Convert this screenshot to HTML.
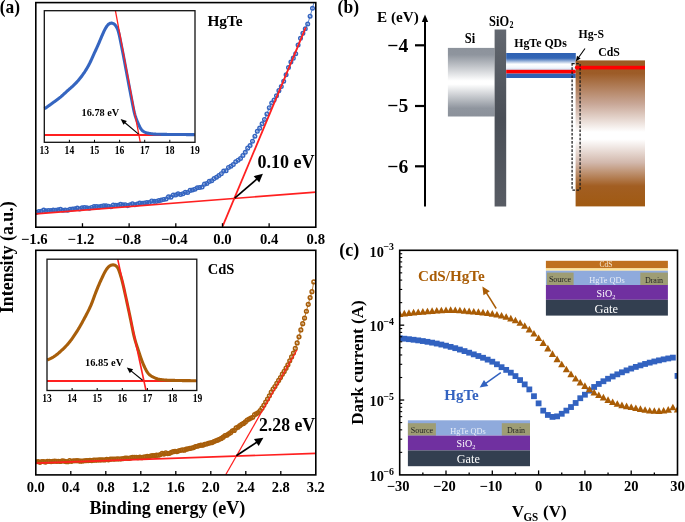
<!DOCTYPE html>
<html><head><meta charset="utf-8"><style>
html,body{margin:0;padding:0;background:#fff;}
body{width:685px;height:522px;overflow:hidden;}
svg{display:block;will-change:transform;}
</style></head><body>
<svg width="685" height="522" viewBox="0 0 685 522">
<rect width="685" height="522" fill="#fff"/>
<g clip-path="url(#clipA)">
<path d="M36.50,212.35 L38.90,211.53 L41.30,211.21 L43.70,210.08 L46.10,210.72 L48.50,210.53 L50.90,210.51 L53.30,210.08 L55.70,210.22 L58.10,209.85 L60.50,209.28 L62.90,210.23 L65.30,210.08 L67.70,210.33 L70.10,209.34 L72.50,208.95 L74.90,208.70 L77.30,208.02 L79.70,209.08 L82.10,207.81 L84.50,207.51 L86.90,207.73 L89.30,208.31 L91.70,207.44 L94.10,206.56 L96.50,206.46 L98.90,206.88 L101.30,206.26 L103.70,205.76 L106.10,205.88 L108.50,206.26 L110.90,206.78 L113.30,205.10 L115.70,205.33 L118.10,205.17 L120.50,204.27 L122.90,204.90 L125.30,204.70 L127.70,205.61 L130.10,204.80 L132.50,203.84 L134.90,204.76 L137.30,204.02 L139.70,203.06 L142.10,203.34 L144.50,203.01 L146.90,202.49 L149.30,202.53 L151.70,200.92 L154.10,201.35 L156.50,201.37 L158.90,200.64 L161.30,200.10 L163.70,199.44 L166.10,198.91 L168.50,196.88 L170.90,197.15 L173.30,195.11 L175.70,195.06 L178.10,193.70 L180.50,194.43 L182.90,193.80 L185.30,192.23 L187.70,192.42 L190.10,190.40 L192.50,190.00 L194.90,189.17 L197.30,187.74 L199.70,187.55 L202.10,187.09 L204.50,184.15 L206.90,183.51 L209.30,181.38 L211.70,180.80 L214.10,178.62 L216.50,177.16 L218.90,175.54 L221.30,173.68 L223.70,171.11 L226.10,170.69 L228.50,167.42 L230.90,166.28 L233.30,164.48 L235.70,161.74 L238.10,160.19 L240.50,158.51 L242.90,155.48 L245.30,152.29 L247.70,148.15 L250.10,145.53 L252.50,141.19 L254.90,136.18 L257.30,131.34 L259.70,128.13 L262.10,123.82 L264.50,119.45 L266.90,113.91 L269.30,107.65 L271.70,103.10 L274.10,100.07 L276.50,95.79 L278.90,90.64 L281.30,86.58 L283.70,81.29 L286.10,74.71 L288.50,67.52 L290.90,62.05 L293.30,58.14 L295.70,53.71 L298.10,45.06 L300.50,38.21 L302.90,33.32 L305.30,28.79 L307.70,23.95 L310.10,16.19 L312.50,8.24 L314.90,-1.19" fill="none" stroke="#3565c0" stroke-width="0.8" />
<circle cx="36.50" cy="212.35" r="1.8" fill="none" stroke="#3565c0" stroke-width="1.45"/>
<circle cx="38.90" cy="211.53" r="1.8" fill="none" stroke="#3565c0" stroke-width="1.45"/>
<circle cx="41.30" cy="211.21" r="1.8" fill="none" stroke="#3565c0" stroke-width="1.45"/>
<circle cx="43.70" cy="210.08" r="1.8" fill="none" stroke="#3565c0" stroke-width="1.45"/>
<circle cx="46.10" cy="210.72" r="1.8" fill="none" stroke="#3565c0" stroke-width="1.45"/>
<circle cx="48.50" cy="210.53" r="1.8" fill="none" stroke="#3565c0" stroke-width="1.45"/>
<circle cx="50.90" cy="210.51" r="1.8" fill="none" stroke="#3565c0" stroke-width="1.45"/>
<circle cx="53.30" cy="210.08" r="1.8" fill="none" stroke="#3565c0" stroke-width="1.45"/>
<circle cx="55.70" cy="210.22" r="1.8" fill="none" stroke="#3565c0" stroke-width="1.45"/>
<circle cx="58.10" cy="209.85" r="1.8" fill="none" stroke="#3565c0" stroke-width="1.45"/>
<circle cx="60.50" cy="209.28" r="1.8" fill="none" stroke="#3565c0" stroke-width="1.45"/>
<circle cx="62.90" cy="210.23" r="1.8" fill="none" stroke="#3565c0" stroke-width="1.45"/>
<circle cx="65.30" cy="210.08" r="1.8" fill="none" stroke="#3565c0" stroke-width="1.45"/>
<circle cx="67.70" cy="210.33" r="1.8" fill="none" stroke="#3565c0" stroke-width="1.45"/>
<circle cx="70.10" cy="209.34" r="1.8" fill="none" stroke="#3565c0" stroke-width="1.45"/>
<circle cx="72.50" cy="208.95" r="1.8" fill="none" stroke="#3565c0" stroke-width="1.45"/>
<circle cx="74.90" cy="208.70" r="1.8" fill="none" stroke="#3565c0" stroke-width="1.45"/>
<circle cx="77.30" cy="208.02" r="1.8" fill="none" stroke="#3565c0" stroke-width="1.45"/>
<circle cx="79.70" cy="209.08" r="1.8" fill="none" stroke="#3565c0" stroke-width="1.45"/>
<circle cx="82.10" cy="207.81" r="1.8" fill="none" stroke="#3565c0" stroke-width="1.45"/>
<circle cx="84.50" cy="207.51" r="1.8" fill="none" stroke="#3565c0" stroke-width="1.45"/>
<circle cx="86.90" cy="207.73" r="1.8" fill="none" stroke="#3565c0" stroke-width="1.45"/>
<circle cx="89.30" cy="208.31" r="1.8" fill="none" stroke="#3565c0" stroke-width="1.45"/>
<circle cx="91.70" cy="207.44" r="1.8" fill="none" stroke="#3565c0" stroke-width="1.45"/>
<circle cx="94.10" cy="206.56" r="1.8" fill="none" stroke="#3565c0" stroke-width="1.45"/>
<circle cx="96.50" cy="206.46" r="1.8" fill="none" stroke="#3565c0" stroke-width="1.45"/>
<circle cx="98.90" cy="206.88" r="1.8" fill="none" stroke="#3565c0" stroke-width="1.45"/>
<circle cx="101.30" cy="206.26" r="1.8" fill="none" stroke="#3565c0" stroke-width="1.45"/>
<circle cx="103.70" cy="205.76" r="1.8" fill="none" stroke="#3565c0" stroke-width="1.45"/>
<circle cx="106.10" cy="205.88" r="1.8" fill="none" stroke="#3565c0" stroke-width="1.45"/>
<circle cx="108.50" cy="206.26" r="1.8" fill="none" stroke="#3565c0" stroke-width="1.45"/>
<circle cx="110.90" cy="206.78" r="1.8" fill="none" stroke="#3565c0" stroke-width="1.45"/>
<circle cx="113.30" cy="205.10" r="1.8" fill="none" stroke="#3565c0" stroke-width="1.45"/>
<circle cx="115.70" cy="205.33" r="1.8" fill="none" stroke="#3565c0" stroke-width="1.45"/>
<circle cx="118.10" cy="205.17" r="1.8" fill="none" stroke="#3565c0" stroke-width="1.45"/>
<circle cx="120.50" cy="204.27" r="1.8" fill="none" stroke="#3565c0" stroke-width="1.45"/>
<circle cx="122.90" cy="204.90" r="1.8" fill="none" stroke="#3565c0" stroke-width="1.45"/>
<circle cx="125.30" cy="204.70" r="1.8" fill="none" stroke="#3565c0" stroke-width="1.45"/>
<circle cx="127.70" cy="205.61" r="1.8" fill="none" stroke="#3565c0" stroke-width="1.45"/>
<circle cx="130.10" cy="204.80" r="1.8" fill="none" stroke="#3565c0" stroke-width="1.45"/>
<circle cx="132.50" cy="203.84" r="1.8" fill="none" stroke="#3565c0" stroke-width="1.45"/>
<circle cx="134.90" cy="204.76" r="1.8" fill="none" stroke="#3565c0" stroke-width="1.45"/>
<circle cx="137.30" cy="204.02" r="1.8" fill="none" stroke="#3565c0" stroke-width="1.45"/>
<circle cx="139.70" cy="203.06" r="1.8" fill="none" stroke="#3565c0" stroke-width="1.45"/>
<circle cx="142.10" cy="203.34" r="1.8" fill="none" stroke="#3565c0" stroke-width="1.45"/>
<circle cx="144.50" cy="203.01" r="1.8" fill="none" stroke="#3565c0" stroke-width="1.45"/>
<circle cx="146.90" cy="202.49" r="1.8" fill="none" stroke="#3565c0" stroke-width="1.45"/>
<circle cx="149.30" cy="202.53" r="1.8" fill="none" stroke="#3565c0" stroke-width="1.45"/>
<circle cx="151.70" cy="200.92" r="1.8" fill="none" stroke="#3565c0" stroke-width="1.45"/>
<circle cx="154.10" cy="201.35" r="1.8" fill="none" stroke="#3565c0" stroke-width="1.45"/>
<circle cx="156.50" cy="201.37" r="1.8" fill="none" stroke="#3565c0" stroke-width="1.45"/>
<circle cx="158.90" cy="200.64" r="1.8" fill="none" stroke="#3565c0" stroke-width="1.45"/>
<circle cx="161.30" cy="200.10" r="1.8" fill="none" stroke="#3565c0" stroke-width="1.45"/>
<circle cx="163.70" cy="199.44" r="1.8" fill="none" stroke="#3565c0" stroke-width="1.45"/>
<circle cx="166.10" cy="198.91" r="1.8" fill="none" stroke="#3565c0" stroke-width="1.45"/>
<circle cx="168.50" cy="196.88" r="1.8" fill="none" stroke="#3565c0" stroke-width="1.45"/>
<circle cx="170.90" cy="197.15" r="1.8" fill="none" stroke="#3565c0" stroke-width="1.45"/>
<circle cx="173.30" cy="195.11" r="1.8" fill="none" stroke="#3565c0" stroke-width="1.45"/>
<circle cx="175.70" cy="195.06" r="1.8" fill="none" stroke="#3565c0" stroke-width="1.45"/>
<circle cx="178.10" cy="193.70" r="1.8" fill="none" stroke="#3565c0" stroke-width="1.45"/>
<circle cx="180.50" cy="194.43" r="1.8" fill="none" stroke="#3565c0" stroke-width="1.45"/>
<circle cx="182.90" cy="193.80" r="1.8" fill="none" stroke="#3565c0" stroke-width="1.45"/>
<circle cx="185.30" cy="192.23" r="1.8" fill="none" stroke="#3565c0" stroke-width="1.45"/>
<circle cx="187.70" cy="192.42" r="1.8" fill="none" stroke="#3565c0" stroke-width="1.45"/>
<circle cx="190.10" cy="190.40" r="1.8" fill="none" stroke="#3565c0" stroke-width="1.45"/>
<circle cx="192.50" cy="190.00" r="1.8" fill="none" stroke="#3565c0" stroke-width="1.45"/>
<circle cx="194.90" cy="189.17" r="1.8" fill="none" stroke="#3565c0" stroke-width="1.45"/>
<circle cx="197.30" cy="187.74" r="1.8" fill="none" stroke="#3565c0" stroke-width="1.45"/>
<circle cx="199.70" cy="187.55" r="1.8" fill="none" stroke="#3565c0" stroke-width="1.45"/>
<circle cx="202.10" cy="187.09" r="1.8" fill="none" stroke="#3565c0" stroke-width="1.45"/>
<circle cx="204.50" cy="184.15" r="1.8" fill="none" stroke="#3565c0" stroke-width="1.45"/>
<circle cx="206.90" cy="183.51" r="1.8" fill="none" stroke="#3565c0" stroke-width="1.45"/>
<circle cx="209.30" cy="181.38" r="1.8" fill="none" stroke="#3565c0" stroke-width="1.45"/>
<circle cx="211.70" cy="180.80" r="1.8" fill="none" stroke="#3565c0" stroke-width="1.45"/>
<circle cx="214.10" cy="178.62" r="1.8" fill="none" stroke="#3565c0" stroke-width="1.45"/>
<circle cx="216.50" cy="177.16" r="1.8" fill="none" stroke="#3565c0" stroke-width="1.45"/>
<circle cx="218.90" cy="175.54" r="1.8" fill="none" stroke="#3565c0" stroke-width="1.45"/>
<circle cx="221.30" cy="173.68" r="1.8" fill="none" stroke="#3565c0" stroke-width="1.45"/>
<circle cx="223.70" cy="171.11" r="1.8" fill="none" stroke="#3565c0" stroke-width="1.45"/>
<circle cx="226.10" cy="170.69" r="1.8" fill="none" stroke="#3565c0" stroke-width="1.45"/>
<circle cx="228.50" cy="167.42" r="1.8" fill="none" stroke="#3565c0" stroke-width="1.45"/>
<circle cx="230.90" cy="166.28" r="1.8" fill="none" stroke="#3565c0" stroke-width="1.45"/>
<circle cx="233.30" cy="164.48" r="1.8" fill="none" stroke="#3565c0" stroke-width="1.45"/>
<circle cx="235.70" cy="161.74" r="1.8" fill="none" stroke="#3565c0" stroke-width="1.45"/>
<circle cx="238.10" cy="160.19" r="1.8" fill="none" stroke="#3565c0" stroke-width="1.45"/>
<circle cx="240.50" cy="158.51" r="1.8" fill="none" stroke="#3565c0" stroke-width="1.45"/>
<circle cx="242.90" cy="155.48" r="1.8" fill="none" stroke="#3565c0" stroke-width="1.45"/>
<circle cx="245.30" cy="152.29" r="1.8" fill="none" stroke="#3565c0" stroke-width="1.45"/>
<circle cx="247.70" cy="148.15" r="1.8" fill="none" stroke="#3565c0" stroke-width="1.45"/>
<circle cx="250.10" cy="145.53" r="1.8" fill="none" stroke="#3565c0" stroke-width="1.45"/>
<circle cx="252.50" cy="141.19" r="1.8" fill="none" stroke="#3565c0" stroke-width="1.45"/>
<circle cx="254.90" cy="136.18" r="1.8" fill="none" stroke="#3565c0" stroke-width="1.45"/>
<circle cx="257.30" cy="131.34" r="1.8" fill="none" stroke="#3565c0" stroke-width="1.45"/>
<circle cx="259.70" cy="128.13" r="1.8" fill="none" stroke="#3565c0" stroke-width="1.45"/>
<circle cx="262.10" cy="123.82" r="1.8" fill="none" stroke="#3565c0" stroke-width="1.45"/>
<circle cx="264.50" cy="119.45" r="1.8" fill="none" stroke="#3565c0" stroke-width="1.45"/>
<circle cx="266.90" cy="113.91" r="1.8" fill="none" stroke="#3565c0" stroke-width="1.45"/>
<circle cx="269.30" cy="107.65" r="1.8" fill="none" stroke="#3565c0" stroke-width="1.45"/>
<circle cx="271.70" cy="103.10" r="1.8" fill="none" stroke="#3565c0" stroke-width="1.45"/>
<circle cx="274.10" cy="100.07" r="1.8" fill="none" stroke="#3565c0" stroke-width="1.45"/>
<circle cx="276.50" cy="95.79" r="1.8" fill="none" stroke="#3565c0" stroke-width="1.45"/>
<circle cx="278.90" cy="90.64" r="1.8" fill="none" stroke="#3565c0" stroke-width="1.45"/>
<circle cx="281.30" cy="86.58" r="1.8" fill="none" stroke="#3565c0" stroke-width="1.45"/>
<circle cx="283.70" cy="81.29" r="1.8" fill="none" stroke="#3565c0" stroke-width="1.45"/>
<circle cx="286.10" cy="74.71" r="1.8" fill="none" stroke="#3565c0" stroke-width="1.45"/>
<circle cx="288.50" cy="67.52" r="1.8" fill="none" stroke="#3565c0" stroke-width="1.45"/>
<circle cx="290.90" cy="62.05" r="1.8" fill="none" stroke="#3565c0" stroke-width="1.45"/>
<circle cx="293.30" cy="58.14" r="1.8" fill="none" stroke="#3565c0" stroke-width="1.45"/>
<circle cx="295.70" cy="53.71" r="1.8" fill="none" stroke="#3565c0" stroke-width="1.45"/>
<circle cx="298.10" cy="45.06" r="1.8" fill="none" stroke="#3565c0" stroke-width="1.45"/>
<circle cx="300.50" cy="38.21" r="1.8" fill="none" stroke="#3565c0" stroke-width="1.45"/>
<circle cx="302.90" cy="33.32" r="1.8" fill="none" stroke="#3565c0" stroke-width="1.45"/>
<circle cx="305.30" cy="28.79" r="1.8" fill="none" stroke="#3565c0" stroke-width="1.45"/>
<circle cx="307.70" cy="23.95" r="1.8" fill="none" stroke="#3565c0" stroke-width="1.45"/>
<circle cx="310.10" cy="16.19" r="1.8" fill="none" stroke="#3565c0" stroke-width="1.45"/>
<circle cx="312.50" cy="8.24" r="1.8" fill="none" stroke="#3565c0" stroke-width="1.45"/>
<circle cx="314.90" cy="-1.19" r="1.8" fill="none" stroke="#3565c0" stroke-width="1.45"/>
</g>
<line x1="35.80" y1="213.90" x2="315.80" y2="192.10" stroke="#ff2020" stroke-width="1.7" />
<line x1="222.60" y1="226.40" x2="305.80" y2="27.40" stroke="#ff2020" stroke-width="1.8" />
<line x1="234.70" y1="198.20" x2="257.23" y2="178.71" stroke="#000" stroke-width="1.7" />
<path d="M262.90,173.80 L259.25,182.58 L253.69,176.15 Z" fill="#000"/>
<text x="257.40" y="168.30" font-family="Liberation Serif" font-size="18.2" font-weight="bold" text-anchor="start" fill="#000" textLength="57.2" lengthAdjust="spacingAndGlyphs" >0.10 eV</text>
<text x="207.40" y="25.70" font-family="Liberation Serif" font-size="14.5" font-weight="bold" text-anchor="start" fill="#000" textLength="35.3" lengthAdjust="spacingAndGlyphs" >HgTe</text>
<rect x="35.8" y="2.6" width="280.0" height="224.6" fill="none" stroke="#000" stroke-width="1.6"/>
<line x1="82.47" y1="227.20" x2="82.47" y2="223.20" stroke="#000" stroke-width="1.3" />
<line x1="129.13" y1="227.20" x2="129.13" y2="223.20" stroke="#000" stroke-width="1.3" />
<line x1="175.80" y1="227.20" x2="175.80" y2="223.20" stroke="#000" stroke-width="1.3" />
<line x1="222.47" y1="227.20" x2="222.47" y2="223.20" stroke="#000" stroke-width="1.3" />
<line x1="269.13" y1="227.20" x2="269.13" y2="223.20" stroke="#000" stroke-width="1.3" />
<text x="34.30" y="244.00" font-family="Liberation Serif" font-size="14.7" font-weight="bold" text-anchor="middle" fill="#000" >−1.6</text>
<text x="80.97" y="244.00" font-family="Liberation Serif" font-size="14.7" font-weight="bold" text-anchor="middle" fill="#000" >−1.2</text>
<text x="127.63" y="244.00" font-family="Liberation Serif" font-size="14.7" font-weight="bold" text-anchor="middle" fill="#000" >−0.8</text>
<text x="174.30" y="244.00" font-family="Liberation Serif" font-size="14.7" font-weight="bold" text-anchor="middle" fill="#000" >−0.4</text>
<text x="222.47" y="244.00" font-family="Liberation Serif" font-size="14.7" font-weight="bold" text-anchor="middle" fill="#000" >0.0</text>
<text x="269.13" y="244.00" font-family="Liberation Serif" font-size="14.7" font-weight="bold" text-anchor="middle" fill="#000" >0.4</text>
<text x="315.80" y="244.00" font-family="Liberation Serif" font-size="14.7" font-weight="bold" text-anchor="middle" fill="#000" >0.8</text>
<line x1="44.30" y1="135.00" x2="195.00" y2="135.00" stroke="#ff2020" stroke-width="2.1" />
<path d="M44.30,108.70 L44.80,108.48 L45.30,108.18 L45.80,107.85 L46.30,107.50 L46.80,107.14 L47.30,106.79 L47.80,106.44 L48.30,106.08 L48.80,105.72 L49.30,105.37 L49.80,105.01 L50.30,104.65 L50.80,104.29 L51.30,103.93 L51.80,103.57 L52.30,103.20 L52.80,102.84 L53.30,102.48 L53.80,102.11 L54.30,101.75 L54.80,101.38 L55.30,101.02 L55.80,100.66 L56.30,100.29 L56.80,99.93 L57.30,99.56 L57.80,99.19 L58.30,98.82 L58.80,98.44 L59.30,98.05 L59.80,97.65 L60.30,97.24 L60.80,96.83 L61.30,96.40 L61.80,95.97 L62.30,95.53 L62.80,95.09 L63.30,94.64 L63.80,94.18 L64.30,93.72 L64.80,93.26 L65.30,92.80 L65.80,92.34 L66.30,91.88 L66.80,91.42 L67.30,90.97 L67.80,90.52 L68.30,90.07 L68.80,89.63 L69.30,89.19 L69.80,88.75 L70.30,88.32 L70.80,87.89 L71.30,87.45 L71.80,87.01 L72.30,86.56 L72.80,86.11 L73.30,85.65 L73.80,85.17 L74.30,84.69 L74.80,84.19 L75.30,83.69 L75.80,83.16 L76.30,82.63 L76.80,82.09 L77.30,81.53 L77.80,80.97 L78.30,80.39 L78.80,79.80 L79.30,79.20 L79.80,78.59 L80.30,77.96 L80.80,77.33 L81.30,76.68 L81.80,76.02 L82.30,75.35 L82.80,74.66 L83.30,73.96 L83.80,73.24 L84.30,72.51 L84.80,71.76 L85.30,70.99 L85.80,70.20 L86.30,69.39 L86.80,68.56 L87.30,67.71 L87.80,66.84 L88.30,65.94 L88.80,65.02 L89.30,64.07 L89.80,63.08 L90.30,62.05 L90.80,60.98 L91.30,59.88 L91.80,58.76 L92.30,57.64 L92.80,56.51 L93.30,55.40 L93.80,54.30 L94.30,53.21 L94.80,52.13 L95.30,51.05 L95.80,49.98 L96.30,48.90 L96.80,47.81 L97.30,46.71 L97.80,45.60 L98.30,44.47 L98.80,43.32 L99.30,42.14 L99.80,40.95 L100.30,39.76 L100.80,38.56 L101.30,37.39 L101.80,36.23 L102.30,35.08 L102.80,33.95 L103.30,32.82 L103.80,31.71 L104.30,30.63 L104.80,29.61 L105.30,28.67 L105.80,27.80 L106.30,27.01 L106.80,26.28 L107.30,25.62 L107.80,25.02 L108.30,24.51 L108.80,24.10 L109.30,23.77 L109.80,23.52 L110.30,23.32 L110.80,23.18 L111.30,23.11 L111.80,23.11 L112.30,23.19 L112.80,23.35 L113.30,23.57 L113.80,23.86 L114.30,24.22 L114.80,24.67 L115.30,25.22 L115.80,25.87 L116.30,26.62 L116.80,27.48 L117.30,28.50 L117.80,29.72 L118.30,31.22 L118.80,33.02 L119.30,35.14 L119.80,37.48 L120.30,39.95 L120.80,42.45 L121.30,44.95 L121.80,47.44 L122.30,49.95 L122.80,52.49 L123.30,55.06 L123.80,57.67 L124.30,60.31 L124.80,62.98 L125.30,65.67 L125.80,68.36 L126.30,71.06 L126.80,73.75 L127.30,76.42 L127.80,79.08 L128.30,81.73 L128.80,84.37 L129.30,87.01 L129.80,89.63 L130.30,92.25 L130.80,94.84 L131.30,97.43 L131.80,100.02 L132.30,102.63 L132.80,105.23 L133.30,107.78 L133.80,110.20 L134.30,112.40 L134.80,114.35 L135.30,116.05 L135.80,117.57 L136.30,118.94 L136.80,120.23 L137.30,121.47 L137.80,122.67 L138.30,123.82 L138.80,124.91 L139.30,125.95 L139.80,126.94 L140.30,127.86 L140.80,128.70 L141.30,129.44 L141.80,130.05 L142.30,130.54 L142.80,130.95 L143.30,131.30 L143.80,131.61 L144.30,131.89 L144.80,132.14 L145.30,132.37 L145.80,132.56 L146.30,132.73 L146.80,132.88 L147.30,133.01 L147.80,133.12 L148.30,133.23 L148.80,133.32 L149.30,133.42 L149.80,133.50 L150.30,133.59 L150.80,133.67 L151.30,133.74 L151.80,133.81 L152.30,133.87 L152.80,133.93 L153.30,133.99 L153.80,134.03 L154.30,134.08 L154.80,134.11 L155.30,134.14 L155.80,134.17 L156.30,134.19 L156.80,134.21 L157.30,134.23 L157.80,134.24 L158.30,134.26 L158.80,134.27 L159.30,134.28 L159.80,134.29 L160.30,134.31 L160.80,134.32 L161.30,134.33 L161.80,134.34 L162.30,134.35 L162.80,134.36 L163.30,134.37 L163.80,134.38 L164.30,134.38 L164.80,134.39 L165.30,134.40 L165.80,134.41 L166.30,134.41 L166.80,134.42 L167.30,134.43 L167.80,134.43 L168.30,134.44 L168.80,134.44 L169.30,134.45 L169.80,134.45 L170.30,134.46 L170.80,134.46 L171.30,134.47 L171.80,134.47 L172.30,134.48 L172.80,134.48 L173.30,134.49 L173.80,134.49 L174.30,134.49 L174.80,134.50 L175.30,134.50 L175.80,134.51 L176.30,134.51 L176.80,134.51 L177.30,134.52 L177.80,134.52 L178.30,134.52 L178.80,134.53 L179.30,134.53 L179.80,134.54 L180.30,134.54 L180.80,134.54 L181.30,134.55 L181.80,134.55 L182.30,134.55 L182.80,134.56 L183.30,134.56 L183.80,134.56 L184.30,134.57 L184.80,134.57 L185.30,134.57 L185.80,134.57 L186.30,134.58 L186.80,134.58 L187.30,134.58 L187.80,134.58 L188.30,134.59 L188.80,134.59 L189.30,134.59 L189.80,134.59 L190.30,134.59 L190.80,134.59 L191.30,134.60 L191.80,134.60 L192.30,134.60 L192.80,134.60 L193.30,134.60 L193.80,134.60 L194.30,134.60 L194.80,134.60" fill="none" stroke="#3565c0" stroke-width="3.1" />
<line x1="115.40" y1="10.70" x2="140.30" y2="142.30" stroke="#ff2020" stroke-width="1.3" />
<line x1="138.60" y1="134.20" x2="124.42" y2="122.23" stroke="#000" stroke-width="1.1" />
<path d="M120.60,119.00 L126.86,120.88 L123.51,124.86 Z" fill="#000"/>
<text x="81.50" y="116.10" font-family="Liberation Serif" font-size="11.3" font-weight="bold" text-anchor="start" fill="#000" textLength="37.8" lengthAdjust="spacingAndGlyphs" >16.78 eV</text>
<rect x="44.3" y="10.7" width="150.7" height="131.60000000000002" fill="none" stroke="#111" stroke-width="1.3"/>
<line x1="69.40" y1="142.30" x2="69.40" y2="139.80" stroke="#000" stroke-width="1" />
<line x1="94.50" y1="142.30" x2="94.50" y2="139.80" stroke="#000" stroke-width="1" />
<line x1="119.60" y1="142.30" x2="119.60" y2="139.80" stroke="#000" stroke-width="1" />
<line x1="144.70" y1="142.30" x2="144.70" y2="139.80" stroke="#000" stroke-width="1" />
<line x1="169.80" y1="142.30" x2="169.80" y2="139.80" stroke="#000" stroke-width="1" />
<text x="44.30" y="154.00" font-family="Liberation Serif" font-size="11.8" font-weight="bold" text-anchor="middle" fill="#000" textLength="9.6" lengthAdjust="spacingAndGlyphs" >13</text>
<text x="69.40" y="154.00" font-family="Liberation Serif" font-size="11.8" font-weight="bold" text-anchor="middle" fill="#000" textLength="9.6" lengthAdjust="spacingAndGlyphs" >14</text>
<text x="94.50" y="154.00" font-family="Liberation Serif" font-size="11.8" font-weight="bold" text-anchor="middle" fill="#000" textLength="9.6" lengthAdjust="spacingAndGlyphs" >15</text>
<text x="119.60" y="154.00" font-family="Liberation Serif" font-size="11.8" font-weight="bold" text-anchor="middle" fill="#000" textLength="9.6" lengthAdjust="spacingAndGlyphs" >16</text>
<text x="144.70" y="154.00" font-family="Liberation Serif" font-size="11.8" font-weight="bold" text-anchor="middle" fill="#000" textLength="9.6" lengthAdjust="spacingAndGlyphs" >17</text>
<text x="169.80" y="154.00" font-family="Liberation Serif" font-size="11.8" font-weight="bold" text-anchor="middle" fill="#000" textLength="9.6" lengthAdjust="spacingAndGlyphs" >18</text>
<text x="194.90" y="154.00" font-family="Liberation Serif" font-size="11.8" font-weight="bold" text-anchor="middle" fill="#000" textLength="9.6" lengthAdjust="spacingAndGlyphs" >19</text>
<g clip-path="url(#clipB)">
<path d="M36.30,461.73 L38.15,461.50 L40.00,462.32 L41.85,461.51 L43.70,461.60 L45.55,462.03 L47.40,461.26 L49.25,461.34 L51.10,461.55 L52.95,461.37 L54.80,461.08 L56.65,461.35 L58.50,461.27 L60.35,461.52 L62.20,460.81 L64.05,461.06 L65.90,461.57 L67.75,461.75 L69.60,460.69 L71.45,461.30 L73.30,460.76 L75.15,460.76 L77.00,460.70 L78.85,460.79 L80.70,461.17 L82.55,461.02 L84.40,460.75 L86.25,460.54 L88.10,460.56 L89.95,460.43 L91.80,460.60 L93.65,460.06 L95.50,460.14 L97.35,460.00 L99.20,459.90 L101.05,459.88 L102.90,459.75 L104.75,459.98 L106.60,459.44 L108.45,459.83 L110.30,459.15 L112.15,458.98 L114.00,459.03 L115.85,458.99 L117.70,458.84 L119.55,459.02 L121.40,458.85 L123.25,458.53 L125.10,458.16 L126.95,458.11 L128.80,458.44 L130.65,457.96 L132.50,457.37 L134.35,457.42 L136.20,457.32 L138.05,457.70 L139.90,457.17 L141.75,457.72 L143.60,457.07 L145.45,456.73 L147.30,456.36 L149.15,456.56 L151.00,455.96 L152.85,455.52 L154.70,455.66 L156.55,455.19 L158.40,455.23 L160.25,454.53 L162.10,453.36 L163.95,454.11 L165.80,452.95 L167.65,453.62 L169.50,453.34 L171.35,452.30 L173.20,451.71 L175.05,451.26 L176.90,451.54 L178.75,450.81 L180.60,450.27 L182.45,449.94 L184.30,450.19 L186.15,449.21 L188.00,448.87 L189.85,448.41 L191.70,448.02 L193.55,447.56 L195.40,446.55 L197.25,446.23 L199.10,445.60 L200.95,445.16 L202.80,445.27 L204.65,444.33 L206.50,444.00 L208.35,443.32 L210.20,442.81 L212.05,442.62 L213.90,441.56 L215.75,440.77 L217.60,440.20 L219.45,439.27 L221.30,438.38 L223.15,437.16 L225.00,435.53 L226.85,435.13 L228.70,433.86 L230.55,432.71 L232.40,430.79 L234.25,430.43 L236.10,427.94 L237.95,427.19 L239.80,425.71 L241.65,424.30 L243.50,423.45 L245.35,421.88 L247.20,419.99 L249.05,419.02 L250.90,418.12 L252.75,417.23 L254.60,414.70 L256.45,413.66 L258.30,412.51 L260.15,410.49 L262.00,408.17 L263.85,405.30 L265.70,402.10 L267.55,399.07 L269.40,395.87 L271.25,392.13 L273.10,389.07 L274.95,386.50 L276.80,383.32 L278.65,380.40 L280.50,377.54 L282.35,374.22 L284.20,371.38 L286.05,368.15 L287.90,364.80 L289.75,360.79 L291.60,356.94 L293.45,352.99 L295.30,348.42 L297.15,342.92 L299.00,336.87 L300.85,329.94 L302.70,323.69 L304.55,318.12 L306.40,311.25 L308.25,304.31 L310.10,297.61 L311.95,291.72 L313.80,281.96" fill="none" stroke="#a85e0a" stroke-width="0.8" />
<circle cx="36.30" cy="461.73" r="1.85" fill="none" stroke="#a85e0a" stroke-width="1.5"/>
<circle cx="38.15" cy="461.50" r="1.85" fill="none" stroke="#a85e0a" stroke-width="1.5"/>
<circle cx="40.00" cy="462.32" r="1.85" fill="none" stroke="#a85e0a" stroke-width="1.5"/>
<circle cx="41.85" cy="461.51" r="1.85" fill="none" stroke="#a85e0a" stroke-width="1.5"/>
<circle cx="43.70" cy="461.60" r="1.85" fill="none" stroke="#a85e0a" stroke-width="1.5"/>
<circle cx="45.55" cy="462.03" r="1.85" fill="none" stroke="#a85e0a" stroke-width="1.5"/>
<circle cx="47.40" cy="461.26" r="1.85" fill="none" stroke="#a85e0a" stroke-width="1.5"/>
<circle cx="49.25" cy="461.34" r="1.85" fill="none" stroke="#a85e0a" stroke-width="1.5"/>
<circle cx="51.10" cy="461.55" r="1.85" fill="none" stroke="#a85e0a" stroke-width="1.5"/>
<circle cx="52.95" cy="461.37" r="1.85" fill="none" stroke="#a85e0a" stroke-width="1.5"/>
<circle cx="54.80" cy="461.08" r="1.85" fill="none" stroke="#a85e0a" stroke-width="1.5"/>
<circle cx="56.65" cy="461.35" r="1.85" fill="none" stroke="#a85e0a" stroke-width="1.5"/>
<circle cx="58.50" cy="461.27" r="1.85" fill="none" stroke="#a85e0a" stroke-width="1.5"/>
<circle cx="60.35" cy="461.52" r="1.85" fill="none" stroke="#a85e0a" stroke-width="1.5"/>
<circle cx="62.20" cy="460.81" r="1.85" fill="none" stroke="#a85e0a" stroke-width="1.5"/>
<circle cx="64.05" cy="461.06" r="1.85" fill="none" stroke="#a85e0a" stroke-width="1.5"/>
<circle cx="65.90" cy="461.57" r="1.85" fill="none" stroke="#a85e0a" stroke-width="1.5"/>
<circle cx="67.75" cy="461.75" r="1.85" fill="none" stroke="#a85e0a" stroke-width="1.5"/>
<circle cx="69.60" cy="460.69" r="1.85" fill="none" stroke="#a85e0a" stroke-width="1.5"/>
<circle cx="71.45" cy="461.30" r="1.85" fill="none" stroke="#a85e0a" stroke-width="1.5"/>
<circle cx="73.30" cy="460.76" r="1.85" fill="none" stroke="#a85e0a" stroke-width="1.5"/>
<circle cx="75.15" cy="460.76" r="1.85" fill="none" stroke="#a85e0a" stroke-width="1.5"/>
<circle cx="77.00" cy="460.70" r="1.85" fill="none" stroke="#a85e0a" stroke-width="1.5"/>
<circle cx="78.85" cy="460.79" r="1.85" fill="none" stroke="#a85e0a" stroke-width="1.5"/>
<circle cx="80.70" cy="461.17" r="1.85" fill="none" stroke="#a85e0a" stroke-width="1.5"/>
<circle cx="82.55" cy="461.02" r="1.85" fill="none" stroke="#a85e0a" stroke-width="1.5"/>
<circle cx="84.40" cy="460.75" r="1.85" fill="none" stroke="#a85e0a" stroke-width="1.5"/>
<circle cx="86.25" cy="460.54" r="1.85" fill="none" stroke="#a85e0a" stroke-width="1.5"/>
<circle cx="88.10" cy="460.56" r="1.85" fill="none" stroke="#a85e0a" stroke-width="1.5"/>
<circle cx="89.95" cy="460.43" r="1.85" fill="none" stroke="#a85e0a" stroke-width="1.5"/>
<circle cx="91.80" cy="460.60" r="1.85" fill="none" stroke="#a85e0a" stroke-width="1.5"/>
<circle cx="93.65" cy="460.06" r="1.85" fill="none" stroke="#a85e0a" stroke-width="1.5"/>
<circle cx="95.50" cy="460.14" r="1.85" fill="none" stroke="#a85e0a" stroke-width="1.5"/>
<circle cx="97.35" cy="460.00" r="1.85" fill="none" stroke="#a85e0a" stroke-width="1.5"/>
<circle cx="99.20" cy="459.90" r="1.85" fill="none" stroke="#a85e0a" stroke-width="1.5"/>
<circle cx="101.05" cy="459.88" r="1.85" fill="none" stroke="#a85e0a" stroke-width="1.5"/>
<circle cx="102.90" cy="459.75" r="1.85" fill="none" stroke="#a85e0a" stroke-width="1.5"/>
<circle cx="104.75" cy="459.98" r="1.85" fill="none" stroke="#a85e0a" stroke-width="1.5"/>
<circle cx="106.60" cy="459.44" r="1.85" fill="none" stroke="#a85e0a" stroke-width="1.5"/>
<circle cx="108.45" cy="459.83" r="1.85" fill="none" stroke="#a85e0a" stroke-width="1.5"/>
<circle cx="110.30" cy="459.15" r="1.85" fill="none" stroke="#a85e0a" stroke-width="1.5"/>
<circle cx="112.15" cy="458.98" r="1.85" fill="none" stroke="#a85e0a" stroke-width="1.5"/>
<circle cx="114.00" cy="459.03" r="1.85" fill="none" stroke="#a85e0a" stroke-width="1.5"/>
<circle cx="115.85" cy="458.99" r="1.85" fill="none" stroke="#a85e0a" stroke-width="1.5"/>
<circle cx="117.70" cy="458.84" r="1.85" fill="none" stroke="#a85e0a" stroke-width="1.5"/>
<circle cx="119.55" cy="459.02" r="1.85" fill="none" stroke="#a85e0a" stroke-width="1.5"/>
<circle cx="121.40" cy="458.85" r="1.85" fill="none" stroke="#a85e0a" stroke-width="1.5"/>
<circle cx="123.25" cy="458.53" r="1.85" fill="none" stroke="#a85e0a" stroke-width="1.5"/>
<circle cx="125.10" cy="458.16" r="1.85" fill="none" stroke="#a85e0a" stroke-width="1.5"/>
<circle cx="126.95" cy="458.11" r="1.85" fill="none" stroke="#a85e0a" stroke-width="1.5"/>
<circle cx="128.80" cy="458.44" r="1.85" fill="none" stroke="#a85e0a" stroke-width="1.5"/>
<circle cx="130.65" cy="457.96" r="1.85" fill="none" stroke="#a85e0a" stroke-width="1.5"/>
<circle cx="132.50" cy="457.37" r="1.85" fill="none" stroke="#a85e0a" stroke-width="1.5"/>
<circle cx="134.35" cy="457.42" r="1.85" fill="none" stroke="#a85e0a" stroke-width="1.5"/>
<circle cx="136.20" cy="457.32" r="1.85" fill="none" stroke="#a85e0a" stroke-width="1.5"/>
<circle cx="138.05" cy="457.70" r="1.85" fill="none" stroke="#a85e0a" stroke-width="1.5"/>
<circle cx="139.90" cy="457.17" r="1.85" fill="none" stroke="#a85e0a" stroke-width="1.5"/>
<circle cx="141.75" cy="457.72" r="1.85" fill="none" stroke="#a85e0a" stroke-width="1.5"/>
<circle cx="143.60" cy="457.07" r="1.85" fill="none" stroke="#a85e0a" stroke-width="1.5"/>
<circle cx="145.45" cy="456.73" r="1.85" fill="none" stroke="#a85e0a" stroke-width="1.5"/>
<circle cx="147.30" cy="456.36" r="1.85" fill="none" stroke="#a85e0a" stroke-width="1.5"/>
<circle cx="149.15" cy="456.56" r="1.85" fill="none" stroke="#a85e0a" stroke-width="1.5"/>
<circle cx="151.00" cy="455.96" r="1.85" fill="none" stroke="#a85e0a" stroke-width="1.5"/>
<circle cx="152.85" cy="455.52" r="1.85" fill="none" stroke="#a85e0a" stroke-width="1.5"/>
<circle cx="154.70" cy="455.66" r="1.85" fill="none" stroke="#a85e0a" stroke-width="1.5"/>
<circle cx="156.55" cy="455.19" r="1.85" fill="none" stroke="#a85e0a" stroke-width="1.5"/>
<circle cx="158.40" cy="455.23" r="1.85" fill="none" stroke="#a85e0a" stroke-width="1.5"/>
<circle cx="160.25" cy="454.53" r="1.85" fill="none" stroke="#a85e0a" stroke-width="1.5"/>
<circle cx="162.10" cy="453.36" r="1.85" fill="none" stroke="#a85e0a" stroke-width="1.5"/>
<circle cx="163.95" cy="454.11" r="1.85" fill="none" stroke="#a85e0a" stroke-width="1.5"/>
<circle cx="165.80" cy="452.95" r="1.85" fill="none" stroke="#a85e0a" stroke-width="1.5"/>
<circle cx="167.65" cy="453.62" r="1.85" fill="none" stroke="#a85e0a" stroke-width="1.5"/>
<circle cx="169.50" cy="453.34" r="1.85" fill="none" stroke="#a85e0a" stroke-width="1.5"/>
<circle cx="171.35" cy="452.30" r="1.85" fill="none" stroke="#a85e0a" stroke-width="1.5"/>
<circle cx="173.20" cy="451.71" r="1.85" fill="none" stroke="#a85e0a" stroke-width="1.5"/>
<circle cx="175.05" cy="451.26" r="1.85" fill="none" stroke="#a85e0a" stroke-width="1.5"/>
<circle cx="176.90" cy="451.54" r="1.85" fill="none" stroke="#a85e0a" stroke-width="1.5"/>
<circle cx="178.75" cy="450.81" r="1.85" fill="none" stroke="#a85e0a" stroke-width="1.5"/>
<circle cx="180.60" cy="450.27" r="1.85" fill="none" stroke="#a85e0a" stroke-width="1.5"/>
<circle cx="182.45" cy="449.94" r="1.85" fill="none" stroke="#a85e0a" stroke-width="1.5"/>
<circle cx="184.30" cy="450.19" r="1.85" fill="none" stroke="#a85e0a" stroke-width="1.5"/>
<circle cx="186.15" cy="449.21" r="1.85" fill="none" stroke="#a85e0a" stroke-width="1.5"/>
<circle cx="188.00" cy="448.87" r="1.85" fill="none" stroke="#a85e0a" stroke-width="1.5"/>
<circle cx="189.85" cy="448.41" r="1.85" fill="none" stroke="#a85e0a" stroke-width="1.5"/>
<circle cx="191.70" cy="448.02" r="1.85" fill="none" stroke="#a85e0a" stroke-width="1.5"/>
<circle cx="193.55" cy="447.56" r="1.85" fill="none" stroke="#a85e0a" stroke-width="1.5"/>
<circle cx="195.40" cy="446.55" r="1.85" fill="none" stroke="#a85e0a" stroke-width="1.5"/>
<circle cx="197.25" cy="446.23" r="1.85" fill="none" stroke="#a85e0a" stroke-width="1.5"/>
<circle cx="199.10" cy="445.60" r="1.85" fill="none" stroke="#a85e0a" stroke-width="1.5"/>
<circle cx="200.95" cy="445.16" r="1.85" fill="none" stroke="#a85e0a" stroke-width="1.5"/>
<circle cx="202.80" cy="445.27" r="1.85" fill="none" stroke="#a85e0a" stroke-width="1.5"/>
<circle cx="204.65" cy="444.33" r="1.85" fill="none" stroke="#a85e0a" stroke-width="1.5"/>
<circle cx="206.50" cy="444.00" r="1.85" fill="none" stroke="#a85e0a" stroke-width="1.5"/>
<circle cx="208.35" cy="443.32" r="1.85" fill="none" stroke="#a85e0a" stroke-width="1.5"/>
<circle cx="210.20" cy="442.81" r="1.85" fill="none" stroke="#a85e0a" stroke-width="1.5"/>
<circle cx="212.05" cy="442.62" r="1.85" fill="none" stroke="#a85e0a" stroke-width="1.5"/>
<circle cx="213.90" cy="441.56" r="1.85" fill="none" stroke="#a85e0a" stroke-width="1.5"/>
<circle cx="215.75" cy="440.77" r="1.85" fill="none" stroke="#a85e0a" stroke-width="1.5"/>
<circle cx="217.60" cy="440.20" r="1.85" fill="none" stroke="#a85e0a" stroke-width="1.5"/>
<circle cx="219.45" cy="439.27" r="1.85" fill="none" stroke="#a85e0a" stroke-width="1.5"/>
<circle cx="221.30" cy="438.38" r="1.85" fill="none" stroke="#a85e0a" stroke-width="1.5"/>
<circle cx="223.15" cy="437.16" r="1.85" fill="none" stroke="#a85e0a" stroke-width="1.5"/>
<circle cx="225.00" cy="435.53" r="1.85" fill="none" stroke="#a85e0a" stroke-width="1.5"/>
<circle cx="226.85" cy="435.13" r="1.85" fill="none" stroke="#a85e0a" stroke-width="1.5"/>
<circle cx="228.70" cy="433.86" r="1.85" fill="none" stroke="#a85e0a" stroke-width="1.5"/>
<circle cx="230.55" cy="432.71" r="1.85" fill="none" stroke="#a85e0a" stroke-width="1.5"/>
<circle cx="232.40" cy="430.79" r="1.85" fill="none" stroke="#a85e0a" stroke-width="1.5"/>
<circle cx="234.25" cy="430.43" r="1.85" fill="none" stroke="#a85e0a" stroke-width="1.5"/>
<circle cx="236.10" cy="427.94" r="1.85" fill="none" stroke="#a85e0a" stroke-width="1.5"/>
<circle cx="237.95" cy="427.19" r="1.85" fill="none" stroke="#a85e0a" stroke-width="1.5"/>
<circle cx="239.80" cy="425.71" r="1.85" fill="none" stroke="#a85e0a" stroke-width="1.5"/>
<circle cx="241.65" cy="424.30" r="1.85" fill="none" stroke="#a85e0a" stroke-width="1.5"/>
<circle cx="243.50" cy="423.45" r="1.85" fill="none" stroke="#a85e0a" stroke-width="1.5"/>
<circle cx="245.35" cy="421.88" r="1.85" fill="none" stroke="#a85e0a" stroke-width="1.5"/>
<circle cx="247.20" cy="419.99" r="1.85" fill="none" stroke="#a85e0a" stroke-width="1.5"/>
<circle cx="249.05" cy="419.02" r="1.85" fill="none" stroke="#a85e0a" stroke-width="1.5"/>
<circle cx="250.90" cy="418.12" r="1.85" fill="none" stroke="#a85e0a" stroke-width="1.5"/>
<circle cx="252.75" cy="417.23" r="1.85" fill="none" stroke="#a85e0a" stroke-width="1.5"/>
<circle cx="254.60" cy="414.70" r="1.85" fill="none" stroke="#a85e0a" stroke-width="1.5"/>
<circle cx="256.45" cy="413.66" r="1.85" fill="none" stroke="#a85e0a" stroke-width="1.5"/>
<circle cx="258.30" cy="412.51" r="1.85" fill="none" stroke="#a85e0a" stroke-width="1.5"/>
<circle cx="260.15" cy="410.49" r="1.85" fill="none" stroke="#a85e0a" stroke-width="1.5"/>
<circle cx="262.00" cy="408.17" r="1.85" fill="none" stroke="#a85e0a" stroke-width="1.5"/>
<circle cx="263.85" cy="405.30" r="1.85" fill="none" stroke="#a85e0a" stroke-width="1.5"/>
<circle cx="265.70" cy="402.10" r="1.85" fill="none" stroke="#a85e0a" stroke-width="1.5"/>
<circle cx="267.55" cy="399.07" r="1.85" fill="none" stroke="#a85e0a" stroke-width="1.5"/>
<circle cx="269.40" cy="395.87" r="1.85" fill="none" stroke="#a85e0a" stroke-width="1.5"/>
<circle cx="271.25" cy="392.13" r="1.85" fill="none" stroke="#a85e0a" stroke-width="1.5"/>
<circle cx="273.10" cy="389.07" r="1.85" fill="none" stroke="#a85e0a" stroke-width="1.5"/>
<circle cx="274.95" cy="386.50" r="1.85" fill="none" stroke="#a85e0a" stroke-width="1.5"/>
<circle cx="276.80" cy="383.32" r="1.85" fill="none" stroke="#a85e0a" stroke-width="1.5"/>
<circle cx="278.65" cy="380.40" r="1.85" fill="none" stroke="#a85e0a" stroke-width="1.5"/>
<circle cx="280.50" cy="377.54" r="1.85" fill="none" stroke="#a85e0a" stroke-width="1.5"/>
<circle cx="282.35" cy="374.22" r="1.85" fill="none" stroke="#a85e0a" stroke-width="1.5"/>
<circle cx="284.20" cy="371.38" r="1.85" fill="none" stroke="#a85e0a" stroke-width="1.5"/>
<circle cx="286.05" cy="368.15" r="1.85" fill="none" stroke="#a85e0a" stroke-width="1.5"/>
<circle cx="287.90" cy="364.80" r="1.85" fill="none" stroke="#a85e0a" stroke-width="1.5"/>
<circle cx="289.75" cy="360.79" r="1.85" fill="none" stroke="#a85e0a" stroke-width="1.5"/>
<circle cx="291.60" cy="356.94" r="1.85" fill="none" stroke="#a85e0a" stroke-width="1.5"/>
<circle cx="293.45" cy="352.99" r="1.85" fill="none" stroke="#a85e0a" stroke-width="1.5"/>
<circle cx="295.30" cy="348.42" r="1.85" fill="none" stroke="#a85e0a" stroke-width="1.5"/>
<circle cx="297.15" cy="342.92" r="1.85" fill="none" stroke="#a85e0a" stroke-width="1.5"/>
<circle cx="299.00" cy="336.87" r="1.85" fill="none" stroke="#a85e0a" stroke-width="1.5"/>
<circle cx="300.85" cy="329.94" r="1.85" fill="none" stroke="#a85e0a" stroke-width="1.5"/>
<circle cx="302.70" cy="323.69" r="1.85" fill="none" stroke="#a85e0a" stroke-width="1.5"/>
<circle cx="304.55" cy="318.12" r="1.85" fill="none" stroke="#a85e0a" stroke-width="1.5"/>
<circle cx="306.40" cy="311.25" r="1.85" fill="none" stroke="#a85e0a" stroke-width="1.5"/>
<circle cx="308.25" cy="304.31" r="1.85" fill="none" stroke="#a85e0a" stroke-width="1.5"/>
<circle cx="310.10" cy="297.61" r="1.85" fill="none" stroke="#a85e0a" stroke-width="1.5"/>
<circle cx="311.95" cy="291.72" r="1.85" fill="none" stroke="#a85e0a" stroke-width="1.5"/>
<circle cx="313.80" cy="281.96" r="1.85" fill="none" stroke="#a85e0a" stroke-width="1.5"/>
</g>
<line x1="35.80" y1="463.20" x2="315.80" y2="453.30" stroke="#ff2020" stroke-width="1.7" />
<line x1="225.70" y1="474.80" x2="296.90" y2="350.00" stroke="#ff2020" stroke-width="1.25" />
<line x1="236.30" y1="455.70" x2="257.14" y2="441.93" stroke="#000" stroke-width="1.7" />
<path d="M263.40,437.80 L258.65,446.03 L253.97,438.94 Z" fill="#000"/>
<text x="259.00" y="431.40" font-family="Liberation Serif" font-size="18.4" font-weight="bold" text-anchor="start" fill="#000" textLength="56.2" lengthAdjust="spacingAndGlyphs" >2.28 eV</text>
<text x="207.70" y="273.70" font-family="Liberation Serif" font-size="14.6" font-weight="bold" text-anchor="start" fill="#000" textLength="26.6" lengthAdjust="spacingAndGlyphs" >CdS</text>
<rect x="35.8" y="250.3" width="280.0" height="224.59999999999997" fill="none" stroke="#000" stroke-width="1.6"/>
<line x1="70.80" y1="474.90" x2="70.80" y2="470.90" stroke="#000" stroke-width="1.3" />
<line x1="105.80" y1="474.90" x2="105.80" y2="470.90" stroke="#000" stroke-width="1.3" />
<line x1="140.80" y1="474.90" x2="140.80" y2="470.90" stroke="#000" stroke-width="1.3" />
<line x1="175.80" y1="474.90" x2="175.80" y2="470.90" stroke="#000" stroke-width="1.3" />
<line x1="210.80" y1="474.90" x2="210.80" y2="470.90" stroke="#000" stroke-width="1.3" />
<line x1="245.80" y1="474.90" x2="245.80" y2="470.90" stroke="#000" stroke-width="1.3" />
<line x1="280.80" y1="474.90" x2="280.80" y2="470.90" stroke="#000" stroke-width="1.3" />
<text x="35.80" y="491.50" font-family="Liberation Serif" font-size="14.5" font-weight="bold" text-anchor="middle" fill="#000" >0.0</text>
<text x="70.80" y="491.50" font-family="Liberation Serif" font-size="14.5" font-weight="bold" text-anchor="middle" fill="#000" >0.4</text>
<text x="105.80" y="491.50" font-family="Liberation Serif" font-size="14.5" font-weight="bold" text-anchor="middle" fill="#000" >0.8</text>
<text x="140.80" y="491.50" font-family="Liberation Serif" font-size="14.5" font-weight="bold" text-anchor="middle" fill="#000" >1.2</text>
<text x="175.80" y="491.50" font-family="Liberation Serif" font-size="14.5" font-weight="bold" text-anchor="middle" fill="#000" >1.6</text>
<text x="210.80" y="491.50" font-family="Liberation Serif" font-size="14.5" font-weight="bold" text-anchor="middle" fill="#000" >2.0</text>
<text x="245.80" y="491.50" font-family="Liberation Serif" font-size="14.5" font-weight="bold" text-anchor="middle" fill="#000" >2.4</text>
<text x="280.80" y="491.50" font-family="Liberation Serif" font-size="14.5" font-weight="bold" text-anchor="middle" fill="#000" >2.8</text>
<text x="315.80" y="491.50" font-family="Liberation Serif" font-size="14.5" font-weight="bold" text-anchor="middle" fill="#000" >3.2</text>
<text x="89.50" y="513.80" font-family="Liberation Serif" font-size="18.7" font-weight="bold" text-anchor="start" fill="#000" textLength="155.8" lengthAdjust="spacingAndGlyphs" >Binding energy (eV)</text>
<line x1="47.00" y1="381.00" x2="196.80" y2="381.00" stroke="#ff2020" stroke-width="2.0" />
<path d="M47.30,359.88 L47.80,359.76 L48.30,359.58 L48.80,359.38 L49.30,359.15 L49.80,358.92 L50.30,358.68 L50.80,358.42 L51.30,358.16 L51.80,357.88 L52.30,357.60 L52.80,357.31 L53.30,357.02 L53.80,356.71 L54.30,356.39 L54.80,356.06 L55.30,355.72 L55.80,355.35 L56.30,354.97 L56.80,354.58 L57.30,354.18 L57.80,353.77 L58.30,353.34 L58.80,352.91 L59.30,352.47 L59.80,352.02 L60.30,351.57 L60.80,351.12 L61.30,350.66 L61.80,350.20 L62.30,349.74 L62.80,349.27 L63.30,348.80 L63.80,348.32 L64.30,347.83 L64.80,347.33 L65.30,346.82 L65.80,346.30 L66.30,345.77 L66.80,345.23 L67.30,344.68 L67.80,344.12 L68.30,343.54 L68.80,342.94 L69.30,342.33 L69.80,341.71 L70.30,341.07 L70.80,340.41 L71.30,339.74 L71.80,339.06 L72.30,338.36 L72.80,337.65 L73.30,336.93 L73.80,336.20 L74.30,335.45 L74.80,334.70 L75.30,333.94 L75.80,333.18 L76.30,332.40 L76.80,331.62 L77.30,330.83 L77.80,330.03 L78.30,329.21 L78.80,328.38 L79.30,327.54 L79.80,326.68 L80.30,325.81 L80.80,324.93 L81.30,324.03 L81.80,323.13 L82.30,322.22 L82.80,321.31 L83.30,320.38 L83.80,319.46 L84.30,318.52 L84.80,317.59 L85.30,316.65 L85.80,315.71 L86.30,314.77 L86.80,313.81 L87.30,312.84 L87.80,311.86 L88.30,310.86 L88.80,309.84 L89.30,308.80 L89.80,307.73 L90.30,306.64 L90.80,305.51 L91.30,304.33 L91.80,303.10 L92.30,301.82 L92.80,300.49 L93.30,299.13 L93.80,297.76 L94.30,296.38 L94.80,295.01 L95.30,293.67 L95.80,292.36 L96.30,291.08 L96.80,289.84 L97.30,288.61 L97.80,287.40 L98.30,286.21 L98.80,285.03 L99.30,283.87 L99.80,282.73 L100.30,281.61 L100.80,280.51 L101.30,279.42 L101.80,278.35 L102.30,277.28 L102.80,276.22 L103.30,275.17 L103.80,274.15 L104.30,273.15 L104.80,272.20 L105.30,271.30 L105.80,270.46 L106.30,269.69 L106.80,268.97 L107.30,268.29 L107.80,267.66 L108.30,267.08 L108.80,266.56 L109.30,266.13 L109.80,265.80 L110.30,265.54 L110.80,265.33 L111.30,265.17 L111.80,265.04 L112.30,264.94 L112.80,264.88 L113.30,264.87 L113.80,264.92 L114.30,265.04 L114.80,265.22 L115.30,265.47 L115.80,265.77 L116.30,266.13 L116.80,266.57 L117.30,267.16 L117.80,267.93 L118.30,268.92 L118.80,270.11 L119.30,271.48 L119.80,272.97 L120.30,274.55 L120.80,276.19 L121.30,277.90 L121.80,279.68 L122.30,281.59 L122.80,283.62 L123.30,285.75 L123.80,287.96 L124.30,290.21 L124.80,292.48 L125.30,294.74 L125.80,297.01 L126.30,299.28 L126.80,301.58 L127.30,303.89 L127.80,306.23 L128.30,308.58 L128.80,310.94 L129.30,313.30 L129.80,315.69 L130.30,318.10 L130.80,320.55 L131.30,323.04 L131.80,325.54 L132.30,328.03 L132.80,330.47 L133.30,332.82 L133.80,335.05 L134.30,337.14 L134.80,339.08 L135.30,340.88 L135.80,342.57 L136.30,344.16 L136.80,345.71 L137.30,347.21 L137.80,348.71 L138.30,350.22 L138.80,351.74 L139.30,353.26 L139.80,354.78 L140.30,356.27 L140.80,357.72 L141.30,359.13 L141.80,360.48 L142.30,361.78 L142.80,363.04 L143.30,364.25 L143.80,365.41 L144.30,366.51 L144.80,367.56 L145.30,368.57 L145.80,369.55 L146.30,370.48 L146.80,371.36 L147.30,372.16 L147.80,372.87 L148.30,373.49 L148.80,374.03 L149.30,374.51 L149.80,374.95 L150.30,375.35 L150.80,375.72 L151.30,376.06 L151.80,376.38 L152.30,376.67 L152.80,376.94 L153.30,377.20 L153.80,377.43 L154.30,377.66 L154.80,377.88 L155.30,378.09 L155.80,378.30 L156.30,378.49 L156.80,378.67 L157.30,378.84 L157.80,379.00 L158.30,379.13 L158.80,379.26 L159.30,379.36 L159.80,379.45 L160.30,379.53 L160.80,379.60 L161.30,379.66 L161.80,379.72 L162.30,379.78 L162.80,379.83 L163.30,379.88 L163.80,379.93 L164.30,379.97 L164.80,380.01 L165.30,380.05 L165.80,380.09 L166.30,380.12 L166.80,380.16 L167.30,380.19 L167.80,380.21 L168.30,380.24 L168.80,380.26 L169.30,380.28 L169.80,380.29 L170.30,380.31 L170.80,380.32 L171.30,380.34 L171.80,380.35 L172.30,380.36 L172.80,380.38 L173.30,380.39 L173.80,380.40 L174.30,380.41 L174.80,380.42 L175.30,380.44 L175.80,380.45 L176.30,380.46 L176.80,380.47 L177.30,380.48 L177.80,380.49 L178.30,380.50 L178.80,380.51 L179.30,380.52 L179.80,380.53 L180.30,380.54 L180.80,380.55 L181.30,380.56 L181.80,380.57 L182.30,380.58 L182.80,380.58 L183.30,380.59 L183.80,380.60 L184.30,380.61 L184.80,380.61 L185.30,380.62 L185.80,380.63 L186.30,380.63 L186.80,380.64 L187.30,380.65 L187.80,380.65 L188.30,380.66 L188.80,380.66 L189.30,380.67 L189.80,380.67 L190.30,380.67 L190.80,380.68 L191.30,380.68 L191.80,380.68 L192.30,380.69 L192.80,380.69 L193.30,380.69 L193.80,380.69 L194.30,380.70 L194.80,380.70 L195.30,380.70 L195.80,380.70 L196.30,380.70" fill="none" stroke="#a85e0a" stroke-width="3.1" />
<line x1="117.70" y1="259.20" x2="146.00" y2="390.50" stroke="#ff2020" stroke-width="1.6" />
<line x1="142.60" y1="380.30" x2="130.69" y2="370.65" stroke="#000" stroke-width="1.1" />
<path d="M126.80,367.50 L133.10,369.26 L129.83,373.30 Z" fill="#000"/>
<text x="84.90" y="365.60" font-family="Liberation Serif" font-size="11.3" font-weight="bold" text-anchor="start" fill="#000" textLength="38.4" lengthAdjust="spacingAndGlyphs" >16.85 eV</text>
<rect x="47.0" y="259.2" width="149.8" height="131.3" fill="none" stroke="#111" stroke-width="1.3"/>
<line x1="72.10" y1="390.50" x2="72.10" y2="388.00" stroke="#000" stroke-width="1" />
<line x1="97.20" y1="390.50" x2="97.20" y2="388.00" stroke="#000" stroke-width="1" />
<line x1="122.30" y1="390.50" x2="122.30" y2="388.00" stroke="#000" stroke-width="1" />
<line x1="147.40" y1="390.50" x2="147.40" y2="388.00" stroke="#000" stroke-width="1" />
<line x1="172.50" y1="390.50" x2="172.50" y2="388.00" stroke="#000" stroke-width="1" />
<text x="47.00" y="402.00" font-family="Liberation Serif" font-size="11.8" font-weight="bold" text-anchor="middle" fill="#000" textLength="9.6" lengthAdjust="spacingAndGlyphs" >13</text>
<text x="72.10" y="402.00" font-family="Liberation Serif" font-size="11.8" font-weight="bold" text-anchor="middle" fill="#000" textLength="9.6" lengthAdjust="spacingAndGlyphs" >14</text>
<text x="97.20" y="402.00" font-family="Liberation Serif" font-size="11.8" font-weight="bold" text-anchor="middle" fill="#000" textLength="9.6" lengthAdjust="spacingAndGlyphs" >15</text>
<text x="122.30" y="402.00" font-family="Liberation Serif" font-size="11.8" font-weight="bold" text-anchor="middle" fill="#000" textLength="9.6" lengthAdjust="spacingAndGlyphs" >16</text>
<text x="147.40" y="402.00" font-family="Liberation Serif" font-size="11.8" font-weight="bold" text-anchor="middle" fill="#000" textLength="9.6" lengthAdjust="spacingAndGlyphs" >17</text>
<text x="172.50" y="402.00" font-family="Liberation Serif" font-size="11.8" font-weight="bold" text-anchor="middle" fill="#000" textLength="9.6" lengthAdjust="spacingAndGlyphs" >18</text>
<text x="197.60" y="402.00" font-family="Liberation Serif" font-size="11.8" font-weight="bold" text-anchor="middle" fill="#000" textLength="9.6" lengthAdjust="spacingAndGlyphs" >19</text>
<text x="0.00" y="0.00" font-family="Liberation Serif" font-size="17.9" font-weight="bold" text-anchor="middle" fill="#000" transform="translate(13,257.2) rotate(-90)">Intensity (a.u.)</text>
<text x="-0.30" y="12.80" font-family="Liberation Serif" font-size="18.8" font-weight="bold" text-anchor="start" fill="#000" textLength="20.3" lengthAdjust="spacingAndGlyphs" >(a)</text>
<text x="337.60" y="12.90" font-family="Liberation Serif" font-size="19" font-weight="bold" text-anchor="start" fill="#000" textLength="21.4" lengthAdjust="spacingAndGlyphs" >(b)</text>
<text x="377.00" y="22.00" font-family="Liberation Serif" font-size="15.2" font-weight="bold" text-anchor="start" fill="#000" >E (eV)</text>
<line x1="425.00" y1="206.50" x2="425.00" y2="20.00" stroke="#000" stroke-width="2.0" />
<path d="M425,14.5 L421.8,22 L428.2,22 Z" fill="#000"/>
<line x1="415.00" y1="45.30" x2="425.00" y2="45.30" stroke="#000" stroke-width="2.2" />
<text x="408.30" y="51.60" font-family="Liberation Serif" font-size="19.5" font-weight="bold" text-anchor="end" fill="#000" textLength="21" lengthAdjust="spacingAndGlyphs" >−4</text>
<line x1="415.00" y1="106.00" x2="425.00" y2="106.00" stroke="#000" stroke-width="2.2" />
<text x="408.30" y="112.30" font-family="Liberation Serif" font-size="19.5" font-weight="bold" text-anchor="end" fill="#000" textLength="21" lengthAdjust="spacingAndGlyphs" >−5</text>
<line x1="415.00" y1="166.30" x2="425.00" y2="166.30" stroke="#000" stroke-width="2.2" />
<text x="408.30" y="172.60" font-family="Liberation Serif" font-size="19.5" font-weight="bold" text-anchor="end" fill="#000" textLength="21" lengthAdjust="spacingAndGlyphs" >−6</text>
<defs>
<linearGradient id="gSi" x1="0" y1="0" x2="0" y2="1">
<stop offset="0" stop-color="#8c929b"/><stop offset="0.1" stop-color="#8f959e"/><stop offset="0.48" stop-color="#ffffff"/><stop offset="0.53" stop-color="#ffffff"/><stop offset="0.88" stop-color="#8f959e"/><stop offset="1" stop-color="#8c929b"/>
</linearGradient>
<linearGradient id="gSiO2" x1="0" y1="0" x2="0" y2="1">
<stop offset="0" stop-color="#62676f"/><stop offset="0.5" stop-color="#4a4f57"/><stop offset="1" stop-color="#585c64"/>
</linearGradient>
<linearGradient id="gCdS" x1="0" y1="0" x2="0" y2="1">
<stop offset="0" stop-color="#9b5a22"/><stop offset="0.09" stop-color="#9d5c28"/><stop offset="0.3" stop-color="#c9a898"/><stop offset="0.49" stop-color="#ffffff"/><stop offset="0.54" stop-color="#ffffff"/><stop offset="0.7" stop-color="#d2b8ac"/><stop offset="0.86" stop-color="#a25e22"/><stop offset="1" stop-color="#a05a12"/>
</linearGradient>
<linearGradient id="gHg" x1="0" y1="0" x2="0" y2="1">
<stop offset="0" stop-color="#2e61b3"/><stop offset="0.3" stop-color="#3366b5"/><stop offset="0.65" stop-color="#ffffff"/><stop offset="0.85" stop-color="#f2f6fc"/><stop offset="1" stop-color="#c8d8ef"/>
</linearGradient>
<clipPath id="clipA"><rect x="35.8" y="2.6" width="280" height="224.6"/></clipPath>
<clipPath id="clipB"><rect x="35.8" y="250.3" width="280" height="224.6"/></clipPath>
<clipPath id="clipC"><rect x="399.7" y="250.3" width="277.8" height="224.4"/></clipPath>
</defs>
<rect x="447.90" y="47.90" width="46.80" height="68.60" fill="url(#gSi)" />
<rect x="494.60" y="29.50" width="11.60" height="177.00" fill="url(#gSiO2)" />
<rect x="506.20" y="53.00" width="69.60" height="17.20" fill="url(#gHg)" />
<rect x="506.20" y="69.80" width="68.00" height="3.80" fill="#ff0000" />
<circle cx="574.2" cy="71.7" r="1.9" fill="#ff0000"/>
<rect x="506.20" y="73.60" width="69.60" height="4.40" fill="#2f62b4" />
<rect x="575.60" y="60.40" width="69.40" height="146.00" fill="url(#gCdS)" />
<rect x="576.50" y="65.80" width="68.50" height="3.60" fill="#ff0000" />
<circle cx="576.6" cy="67.6" r="1.8" fill="#ff0000"/>
<rect x="572.1" y="63.7" width="8.0" height="126.3" fill="none" stroke="#1a1a1a" stroke-width="1.25" stroke-dasharray="2.6,1.5"/>
<line x1="585.00" y1="48.50" x2="578.23" y2="57.95" stroke="#000" stroke-width="1.1" />
<path d="M575.90,61.20 L576.98,55.83 L580.64,58.45 Z" fill="#000"/>
<text x="464.80" y="42.60" font-family="Liberation Serif" font-size="13.8" font-weight="bold" text-anchor="start" fill="#000" textLength="10.4" lengthAdjust="spacingAndGlyphs" >Si</text>
<text x="489.10" y="25.50" font-family="Liberation Serif" font-size="13.8" font-weight="bold" text-anchor="start" fill="#000" textLength="20.0" lengthAdjust="spacingAndGlyphs" >SiO</text>
<text x="509.60" y="28.40" font-family="Liberation Serif" font-size="9.5" font-weight="bold" text-anchor="start" fill="#000" textLength="4.0" lengthAdjust="spacingAndGlyphs" >2</text>
<text x="514.20" y="46.60" font-family="Liberation Serif" font-size="12.3" font-weight="bold" text-anchor="start" fill="#000" textLength="52.6" lengthAdjust="spacingAndGlyphs" >HgTe QDs</text>
<text x="578.50" y="38.20" font-family="Liberation Serif" font-size="11.8" font-weight="bold" text-anchor="start" fill="#000" textLength="25.5" lengthAdjust="spacingAndGlyphs" >Hg-S</text>
<text x="598.20" y="55.50" font-family="Liberation Serif" font-size="12.0" font-weight="bold" text-anchor="start" fill="#000" textLength="21.6" lengthAdjust="spacingAndGlyphs" >CdS</text>
<text x="339.30" y="255.60" font-family="Liberation Serif" font-size="18.8" font-weight="bold" text-anchor="start" fill="#000" textLength="20.0" lengthAdjust="spacingAndGlyphs" >(c)</text>
<rect x="407.90" y="420.30" width="122.10" height="15.30" fill="#8faadc" />
<rect x="407.90" y="423.20" width="28.00" height="12.40" fill="#9e9d74" />
<rect x="501.80" y="423.20" width="28.20" height="12.40" fill="#9e9d74" />
<rect x="407.90" y="435.60" width="122.10" height="14.80" fill="#7030a0" />
<rect x="407.90" y="450.40" width="122.10" height="15.80" fill="#333f50" />
<text x="421.90" y="432.50" font-family="Liberation Serif" font-size="8" font-weight="normal" text-anchor="middle" fill="#222" >Source</text>
<text x="516.00" y="432.50" font-family="Liberation Serif" font-size="8" font-weight="normal" text-anchor="middle" fill="#222" >Drain</text>
<text x="468.00" y="433.50" font-family="Liberation Serif" font-size="8.3" font-weight="normal" text-anchor="middle" fill="#e8eef8" >HgTe QDs</text>
<text x="466.00" y="447.00" font-family="Liberation Serif" font-size="10" font-weight="normal" text-anchor="middle" fill="#fff" >SiO<tspan font-size="6.5" dy="2">2</tspan></text>
<text x="468.30" y="463.40" font-family="Liberation Serif" font-size="13.3" font-weight="normal" text-anchor="middle" fill="#fff" textLength="23.2" lengthAdjust="spacingAndGlyphs" >Gate</text>
<rect x="545.90" y="260.80" width="122.00" height="7.60" fill="#bf701f" />
<rect x="545.90" y="268.40" width="122.00" height="2.30" fill="#ffe699" />
<rect x="545.90" y="270.70" width="122.00" height="14.30" fill="#8faadc" />
<rect x="546.90" y="272.60" width="26.70" height="12.40" fill="#9e9d74" />
<rect x="640.30" y="272.60" width="27.60" height="12.40" fill="#9e9d74" />
<rect x="545.90" y="285.00" width="122.00" height="14.80" fill="#7030a0" />
<rect x="545.90" y="299.80" width="122.00" height="15.80" fill="#333f50" />
<text x="606.00" y="267.30" font-family="Liberation Serif" font-size="7.5" font-weight="normal" text-anchor="middle" fill="#f5e6d0" >CdS</text>
<text x="560.00" y="282.00" font-family="Liberation Serif" font-size="8" font-weight="normal" text-anchor="middle" fill="#222" >Source</text>
<text x="654.00" y="282.50" font-family="Liberation Serif" font-size="8" font-weight="normal" text-anchor="middle" fill="#222" >Drain</text>
<text x="607.00" y="283.00" font-family="Liberation Serif" font-size="8.3" font-weight="normal" text-anchor="middle" fill="#e8eef8" >HgTe QDs</text>
<text x="606.00" y="296.50" font-family="Liberation Serif" font-size="10" font-weight="normal" text-anchor="middle" fill="#fff" >SiO<tspan font-size="6.5" dy="2">2</tspan></text>
<text x="606.30" y="312.50" font-family="Liberation Serif" font-size="13.3" font-weight="normal" text-anchor="middle" fill="#fff" textLength="23.6" lengthAdjust="spacingAndGlyphs" >Gate</text>
<g clip-path="url(#clipC)">
<rect x="396.80" y="335.37" width="5.8" height="5.8" fill="#3262c0"/>
<rect x="401.43" y="335.80" width="5.8" height="5.8" fill="#3262c0"/>
<rect x="406.06" y="336.30" width="5.8" height="5.8" fill="#3262c0"/>
<rect x="410.69" y="336.86" width="5.8" height="5.8" fill="#3262c0"/>
<rect x="415.32" y="337.47" width="5.8" height="5.8" fill="#3262c0"/>
<rect x="419.95" y="338.15" width="5.8" height="5.8" fill="#3262c0"/>
<rect x="424.58" y="338.91" width="5.8" height="5.8" fill="#3262c0"/>
<rect x="429.21" y="339.74" width="5.8" height="5.8" fill="#3262c0"/>
<rect x="433.84" y="340.65" width="5.8" height="5.8" fill="#3262c0"/>
<rect x="438.47" y="341.66" width="5.8" height="5.8" fill="#3262c0"/>
<rect x="443.10" y="342.78" width="5.8" height="5.8" fill="#3262c0"/>
<rect x="447.73" y="343.99" width="5.8" height="5.8" fill="#3262c0"/>
<rect x="452.36" y="345.27" width="5.8" height="5.8" fill="#3262c0"/>
<rect x="456.99" y="346.67" width="5.8" height="5.8" fill="#3262c0"/>
<rect x="461.62" y="348.19" width="5.8" height="5.8" fill="#3262c0"/>
<rect x="466.25" y="349.79" width="5.8" height="5.8" fill="#3262c0"/>
<rect x="470.88" y="351.46" width="5.8" height="5.8" fill="#3262c0"/>
<rect x="475.51" y="353.13" width="5.8" height="5.8" fill="#3262c0"/>
<rect x="480.14" y="354.86" width="5.8" height="5.8" fill="#3262c0"/>
<rect x="484.77" y="356.72" width="5.8" height="5.8" fill="#3262c0"/>
<rect x="489.40" y="358.81" width="5.8" height="5.8" fill="#3262c0"/>
<rect x="494.03" y="361.37" width="5.8" height="5.8" fill="#3262c0"/>
<rect x="498.66" y="364.29" width="5.8" height="5.8" fill="#3262c0"/>
<rect x="503.29" y="366.99" width="5.8" height="5.8" fill="#3262c0"/>
<rect x="507.92" y="369.77" width="5.8" height="5.8" fill="#3262c0"/>
<rect x="512.55" y="373.19" width="5.8" height="5.8" fill="#3262c0"/>
<rect x="517.18" y="377.19" width="5.8" height="5.8" fill="#3262c0"/>
<rect x="521.81" y="381.49" width="5.8" height="5.8" fill="#3262c0"/>
<rect x="526.44" y="386.52" width="5.8" height="5.8" fill="#3262c0"/>
<rect x="531.07" y="393.30" width="5.8" height="5.8" fill="#3262c0"/>
<rect x="535.70" y="400.46" width="5.8" height="5.8" fill="#3262c0"/>
<rect x="540.33" y="407.74" width="5.8" height="5.8" fill="#3262c0"/>
<rect x="544.96" y="412.06" width="5.8" height="5.8" fill="#3262c0"/>
<rect x="549.59" y="414.00" width="5.8" height="5.8" fill="#3262c0"/>
<rect x="554.22" y="413.45" width="5.8" height="5.8" fill="#3262c0"/>
<rect x="558.85" y="410.87" width="5.8" height="5.8" fill="#3262c0"/>
<rect x="563.48" y="407.71" width="5.8" height="5.8" fill="#3262c0"/>
<rect x="568.11" y="404.16" width="5.8" height="5.8" fill="#3262c0"/>
<rect x="572.74" y="400.07" width="5.8" height="5.8" fill="#3262c0"/>
<rect x="577.37" y="395.33" width="5.8" height="5.8" fill="#3262c0"/>
<rect x="582.00" y="391.81" width="5.8" height="5.8" fill="#3262c0"/>
<rect x="586.63" y="387.74" width="5.8" height="5.8" fill="#3262c0"/>
<rect x="591.26" y="384.07" width="5.8" height="5.8" fill="#3262c0"/>
<rect x="595.89" y="381.05" width="5.8" height="5.8" fill="#3262c0"/>
<rect x="600.52" y="378.34" width="5.8" height="5.8" fill="#3262c0"/>
<rect x="605.15" y="375.86" width="5.8" height="5.8" fill="#3262c0"/>
<rect x="609.78" y="373.57" width="5.8" height="5.8" fill="#3262c0"/>
<rect x="614.41" y="371.43" width="5.8" height="5.8" fill="#3262c0"/>
<rect x="619.04" y="369.40" width="5.8" height="5.8" fill="#3262c0"/>
<rect x="623.67" y="367.47" width="5.8" height="5.8" fill="#3262c0"/>
<rect x="628.30" y="365.67" width="5.8" height="5.8" fill="#3262c0"/>
<rect x="632.93" y="364.02" width="5.8" height="5.8" fill="#3262c0"/>
<rect x="637.56" y="362.48" width="5.8" height="5.8" fill="#3262c0"/>
<rect x="642.19" y="361.05" width="5.8" height="5.8" fill="#3262c0"/>
<rect x="646.82" y="359.74" width="5.8" height="5.8" fill="#3262c0"/>
<rect x="651.45" y="358.57" width="5.8" height="5.8" fill="#3262c0"/>
<rect x="656.08" y="357.48" width="5.8" height="5.8" fill="#3262c0"/>
<rect x="660.71" y="356.46" width="5.8" height="5.8" fill="#3262c0"/>
<rect x="665.34" y="355.54" width="5.8" height="5.8" fill="#3262c0"/>
<rect x="669.97" y="354.72" width="5.8" height="5.8" fill="#3262c0"/>
<rect x="674.60" y="373.00" width="5.8" height="5.8" fill="#3262c0"/>
<path d="M399.70,310.41 L403.35,317.01 L396.05,317.01 Z" fill="#a95c05"/>
<path d="M404.33,309.86 L407.98,316.46 L400.68,316.46 Z" fill="#a95c05"/>
<path d="M408.96,309.35 L412.61,315.95 L405.31,315.95 Z" fill="#a95c05"/>
<path d="M413.59,308.87 L417.24,315.47 L409.94,315.47 Z" fill="#a95c05"/>
<path d="M418.22,308.43 L421.87,315.03 L414.57,315.03 Z" fill="#a95c05"/>
<path d="M422.85,308.04 L426.50,314.64 L419.20,314.64 Z" fill="#a95c05"/>
<path d="M427.48,307.68 L431.13,314.28 L423.83,314.28 Z" fill="#a95c05"/>
<path d="M432.11,307.30 L435.76,313.90 L428.46,313.90 Z" fill="#a95c05"/>
<path d="M436.74,306.94 L440.39,313.54 L433.09,313.54 Z" fill="#a95c05"/>
<path d="M441.37,306.64 L445.02,313.24 L437.72,313.24 Z" fill="#a95c05"/>
<path d="M446.00,306.43 L449.65,313.03 L442.35,313.03 Z" fill="#a95c05"/>
<path d="M450.63,306.37 L454.28,312.97 L446.98,312.97 Z" fill="#a95c05"/>
<path d="M455.26,306.49 L458.91,313.09 L451.61,313.09 Z" fill="#a95c05"/>
<path d="M459.89,306.76 L463.54,313.36 L456.24,313.36 Z" fill="#a95c05"/>
<path d="M464.52,307.13 L468.17,313.73 L460.87,313.73 Z" fill="#a95c05"/>
<path d="M469.15,307.53 L472.80,314.13 L465.50,314.13 Z" fill="#a95c05"/>
<path d="M473.78,307.93 L477.43,314.53 L470.13,314.53 Z" fill="#a95c05"/>
<path d="M478.41,308.33 L482.06,314.93 L474.76,314.93 Z" fill="#a95c05"/>
<path d="M483.04,308.81 L486.69,315.41 L479.39,315.41 Z" fill="#a95c05"/>
<path d="M487.67,309.38 L491.32,315.98 L484.02,315.98 Z" fill="#a95c05"/>
<path d="M492.30,310.09 L495.95,316.69 L488.65,316.69 Z" fill="#a95c05"/>
<path d="M496.93,310.97 L500.58,317.57 L493.28,317.57 Z" fill="#a95c05"/>
<path d="M501.56,312.01 L505.21,318.61 L497.91,318.61 Z" fill="#a95c05"/>
<path d="M506.19,313.27 L509.84,319.87 L502.54,319.87 Z" fill="#a95c05"/>
<path d="M510.82,314.82 L514.47,321.42 L507.17,321.42 Z" fill="#a95c05"/>
<path d="M515.45,316.68 L519.10,323.28 L511.80,323.28 Z" fill="#a95c05"/>
<path d="M520.08,319.15 L523.73,325.75 L516.43,325.75 Z" fill="#a95c05"/>
<path d="M524.71,322.18 L528.36,328.78 L521.06,328.78 Z" fill="#a95c05"/>
<path d="M529.34,325.81 L532.99,332.41 L525.69,332.41 Z" fill="#a95c05"/>
<path d="M533.97,329.92 L537.62,336.52 L530.32,336.52 Z" fill="#a95c05"/>
<path d="M538.60,334.42 L542.25,341.02 L534.95,341.02 Z" fill="#a95c05"/>
<path d="M543.23,339.33 L546.88,345.93 L539.58,345.93 Z" fill="#a95c05"/>
<path d="M547.86,344.80 L551.51,351.40 L544.21,351.40 Z" fill="#a95c05"/>
<path d="M552.49,350.34 L556.14,356.94 L548.84,356.94 Z" fill="#a95c05"/>
<path d="M557.12,355.62 L560.77,362.22 L553.47,362.22 Z" fill="#a95c05"/>
<path d="M561.75,360.76 L565.40,367.36 L558.10,367.36 Z" fill="#a95c05"/>
<path d="M566.38,365.74 L570.03,372.34 L562.73,372.34 Z" fill="#a95c05"/>
<path d="M571.01,370.55 L574.66,377.15 L567.36,377.15 Z" fill="#a95c05"/>
<path d="M575.64,374.99 L579.29,381.59 L571.99,381.59 Z" fill="#a95c05"/>
<path d="M580.27,378.81 L583.92,385.41 L576.62,385.41 Z" fill="#a95c05"/>
<path d="M584.90,382.32 L588.55,388.92 L581.25,388.92 Z" fill="#a95c05"/>
<path d="M589.53,385.74 L593.18,392.34 L585.88,392.34 Z" fill="#a95c05"/>
<path d="M594.16,388.78 L597.81,395.38 L590.51,395.38 Z" fill="#a95c05"/>
<path d="M598.79,391.40 L602.44,398.00 L595.14,398.00 Z" fill="#a95c05"/>
<path d="M603.42,393.84 L607.07,400.44 L599.77,400.44 Z" fill="#a95c05"/>
<path d="M608.05,396.28 L611.70,402.88 L604.40,402.88 Z" fill="#a95c05"/>
<path d="M612.68,398.44 L616.33,405.04 L609.03,405.04 Z" fill="#a95c05"/>
<path d="M617.31,400.17 L620.96,406.77 L613.66,406.77 Z" fill="#a95c05"/>
<path d="M621.94,401.58 L625.59,408.18 L618.29,408.18 Z" fill="#a95c05"/>
<path d="M626.57,402.60 L630.22,409.20 L622.92,409.20 Z" fill="#a95c05"/>
<path d="M631.20,403.49 L634.85,410.09 L627.55,410.09 Z" fill="#a95c05"/>
<path d="M635.83,404.45 L639.48,411.05 L632.18,411.05 Z" fill="#a95c05"/>
<path d="M640.46,405.37 L644.11,411.97 L636.81,411.97 Z" fill="#a95c05"/>
<path d="M645.09,406.24 L648.74,412.84 L641.44,412.84 Z" fill="#a95c05"/>
<path d="M649.72,406.88 L653.37,413.48 L646.07,413.48 Z" fill="#a95c05"/>
<path d="M654.35,407.22 L658.00,413.82 L650.70,413.82 Z" fill="#a95c05"/>
<path d="M658.98,407.37 L662.63,413.97 L655.33,413.97 Z" fill="#a95c05"/>
<path d="M663.61,406.98 L667.26,413.58 L659.96,413.58 Z" fill="#a95c05"/>
<path d="M668.24,406.06 L671.89,412.66 L664.59,412.66 Z" fill="#a95c05"/>
<path d="M672.87,403.72 L676.52,410.32 L669.22,410.32 Z" fill="#a95c05"/>
<path d="M677.50,405.87 L681.15,412.47 L673.85,412.47 Z" fill="#a95c05"/>
</g>
<text x="418.00" y="281.40" font-family="Liberation Serif" font-size="15.3" font-weight="bold" text-anchor="start" fill="#a95c05" textLength="66.8" lengthAdjust="spacingAndGlyphs" >CdS/HgTe</text>
<line x1="496.20" y1="308.50" x2="486.12" y2="292.43" stroke="#a95c05" stroke-width="1.5" />
<path d="M482.40,286.50 L489.83,291.28 L483.47,295.27 Z" fill="#a95c05"/>
<text x="444.20" y="400.30" font-family="Liberation Serif" font-size="15.2" font-weight="bold" text-anchor="start" fill="#3262c0" textLength="34.6" lengthAdjust="spacingAndGlyphs" >HgTe</text>
<line x1="500.80" y1="372.70" x2="485.33" y2="383.57" stroke="#3262c0" stroke-width="1.5" />
<path d="M479.60,387.60 L483.99,379.93 L488.30,386.07 Z" fill="#3262c0"/>
<rect x="399.7" y="250.3" width="277.8" height="224.59999999999997" fill="none" stroke="#000" stroke-width="1.6"/>
<line x1="446.00" y1="474.90" x2="446.00" y2="470.40" stroke="#000" stroke-width="1.3" />
<line x1="492.30" y1="474.90" x2="492.30" y2="470.40" stroke="#000" stroke-width="1.3" />
<line x1="538.60" y1="474.90" x2="538.60" y2="470.40" stroke="#000" stroke-width="1.3" />
<line x1="584.90" y1="474.90" x2="584.90" y2="470.40" stroke="#000" stroke-width="1.3" />
<line x1="631.20" y1="474.90" x2="631.20" y2="470.40" stroke="#000" stroke-width="1.3" />
<line x1="422.85" y1="474.90" x2="422.85" y2="472.40" stroke="#000" stroke-width="1.3" />
<line x1="469.15" y1="474.90" x2="469.15" y2="472.40" stroke="#000" stroke-width="1.3" />
<line x1="515.45" y1="474.90" x2="515.45" y2="472.40" stroke="#000" stroke-width="1.3" />
<line x1="561.75" y1="474.90" x2="561.75" y2="472.40" stroke="#000" stroke-width="1.3" />
<line x1="608.05" y1="474.90" x2="608.05" y2="472.40" stroke="#000" stroke-width="1.3" />
<line x1="654.35" y1="474.90" x2="654.35" y2="472.40" stroke="#000" stroke-width="1.3" />
<line x1="399.70" y1="325.17" x2="404.20" y2="325.17" stroke="#000" stroke-width="1.3" />
<line x1="399.70" y1="400.03" x2="404.20" y2="400.03" stroke="#000" stroke-width="1.3" />
<line x1="399.70" y1="452.36" x2="402.20" y2="452.36" stroke="#000" stroke-width="1.1" />
<line x1="399.70" y1="439.18" x2="402.20" y2="439.18" stroke="#000" stroke-width="1.1" />
<line x1="399.70" y1="429.83" x2="402.20" y2="429.83" stroke="#000" stroke-width="1.1" />
<line x1="399.70" y1="422.57" x2="402.20" y2="422.57" stroke="#000" stroke-width="1.1" />
<line x1="399.70" y1="416.64" x2="402.20" y2="416.64" stroke="#000" stroke-width="1.1" />
<line x1="399.70" y1="411.63" x2="402.20" y2="411.63" stroke="#000" stroke-width="1.1" />
<line x1="399.70" y1="407.29" x2="402.20" y2="407.29" stroke="#000" stroke-width="1.1" />
<line x1="399.70" y1="403.46" x2="402.20" y2="403.46" stroke="#000" stroke-width="1.1" />
<line x1="399.70" y1="377.50" x2="402.20" y2="377.50" stroke="#000" stroke-width="1.1" />
<line x1="399.70" y1="364.31" x2="402.20" y2="364.31" stroke="#000" stroke-width="1.1" />
<line x1="399.70" y1="354.96" x2="402.20" y2="354.96" stroke="#000" stroke-width="1.1" />
<line x1="399.70" y1="347.70" x2="402.20" y2="347.70" stroke="#000" stroke-width="1.1" />
<line x1="399.70" y1="341.78" x2="402.20" y2="341.78" stroke="#000" stroke-width="1.1" />
<line x1="399.70" y1="336.76" x2="402.20" y2="336.76" stroke="#000" stroke-width="1.1" />
<line x1="399.70" y1="332.42" x2="402.20" y2="332.42" stroke="#000" stroke-width="1.1" />
<line x1="399.70" y1="328.59" x2="402.20" y2="328.59" stroke="#000" stroke-width="1.1" />
<line x1="399.70" y1="302.63" x2="402.20" y2="302.63" stroke="#000" stroke-width="1.1" />
<line x1="399.70" y1="289.45" x2="402.20" y2="289.45" stroke="#000" stroke-width="1.1" />
<line x1="399.70" y1="280.09" x2="402.20" y2="280.09" stroke="#000" stroke-width="1.1" />
<line x1="399.70" y1="272.84" x2="402.20" y2="272.84" stroke="#000" stroke-width="1.1" />
<line x1="399.70" y1="266.91" x2="402.20" y2="266.91" stroke="#000" stroke-width="1.1" />
<line x1="399.70" y1="261.90" x2="402.20" y2="261.90" stroke="#000" stroke-width="1.1" />
<line x1="399.70" y1="257.56" x2="402.20" y2="257.56" stroke="#000" stroke-width="1.1" />
<line x1="399.70" y1="253.73" x2="402.20" y2="253.73" stroke="#000" stroke-width="1.1" />
<text x="398.20" y="491.40" font-family="Liberation Serif" font-size="14.5" font-weight="bold" text-anchor="middle" fill="#000" >−30</text>
<text x="444.50" y="491.40" font-family="Liberation Serif" font-size="14.5" font-weight="bold" text-anchor="middle" fill="#000" >−20</text>
<text x="490.80" y="491.40" font-family="Liberation Serif" font-size="14.5" font-weight="bold" text-anchor="middle" fill="#000" >−10</text>
<text x="538.60" y="491.40" font-family="Liberation Serif" font-size="14.5" font-weight="bold" text-anchor="middle" fill="#000" >0</text>
<text x="584.90" y="491.40" font-family="Liberation Serif" font-size="14.5" font-weight="bold" text-anchor="middle" fill="#000" >10</text>
<text x="631.20" y="491.40" font-family="Liberation Serif" font-size="14.5" font-weight="bold" text-anchor="middle" fill="#000" >20</text>
<text x="677.50" y="491.40" font-family="Liberation Serif" font-size="14.5" font-weight="bold" text-anchor="middle" fill="#000" >30</text>
<text x="369.60" y="256.60" font-family="Liberation Serif" font-size="14.3" font-weight="bold" text-anchor="start" fill="#000" >10</text>
<text x="383.40" y="250.40" font-family="Liberation Serif" font-size="10.2" font-weight="bold" text-anchor="start" fill="#000" textLength="10.6" lengthAdjust="spacingAndGlyphs" >−3</text>
<text x="369.60" y="331.47" font-family="Liberation Serif" font-size="14.3" font-weight="bold" text-anchor="start" fill="#000" >10</text>
<text x="383.40" y="325.27" font-family="Liberation Serif" font-size="10.2" font-weight="bold" text-anchor="start" fill="#000" textLength="10.6" lengthAdjust="spacingAndGlyphs" >−4</text>
<text x="369.60" y="406.33" font-family="Liberation Serif" font-size="14.3" font-weight="bold" text-anchor="start" fill="#000" >10</text>
<text x="383.40" y="400.13" font-family="Liberation Serif" font-size="10.2" font-weight="bold" text-anchor="start" fill="#000" textLength="10.6" lengthAdjust="spacingAndGlyphs" >−5</text>
<text x="369.60" y="481.20" font-family="Liberation Serif" font-size="14.3" font-weight="bold" text-anchor="start" fill="#000" >10</text>
<text x="383.40" y="475.00" font-family="Liberation Serif" font-size="10.2" font-weight="bold" text-anchor="start" fill="#000" textLength="10.6" lengthAdjust="spacingAndGlyphs" >−6</text>
<text x="0.00" y="0.00" font-family="Liberation Serif" font-size="17" font-weight="bold" text-anchor="middle" fill="#000" transform="translate(363,362.6) rotate(-90)">Dark current (A)</text>
<text x="511.70" y="516.50" font-family="Liberation Serif" font-size="17" font-weight="bold" text-anchor="start" fill="#000" >V</text>
<text x="523.40" y="521.40" font-family="Liberation Serif" font-size="12" font-weight="bold" text-anchor="start" fill="#000" textLength="14.8" lengthAdjust="spacingAndGlyphs" >GS</text>
<text x="543.00" y="516.50" font-family="Liberation Serif" font-size="17" font-weight="bold" text-anchor="start" fill="#000" >(V)</text>
</svg>
</body></html>
